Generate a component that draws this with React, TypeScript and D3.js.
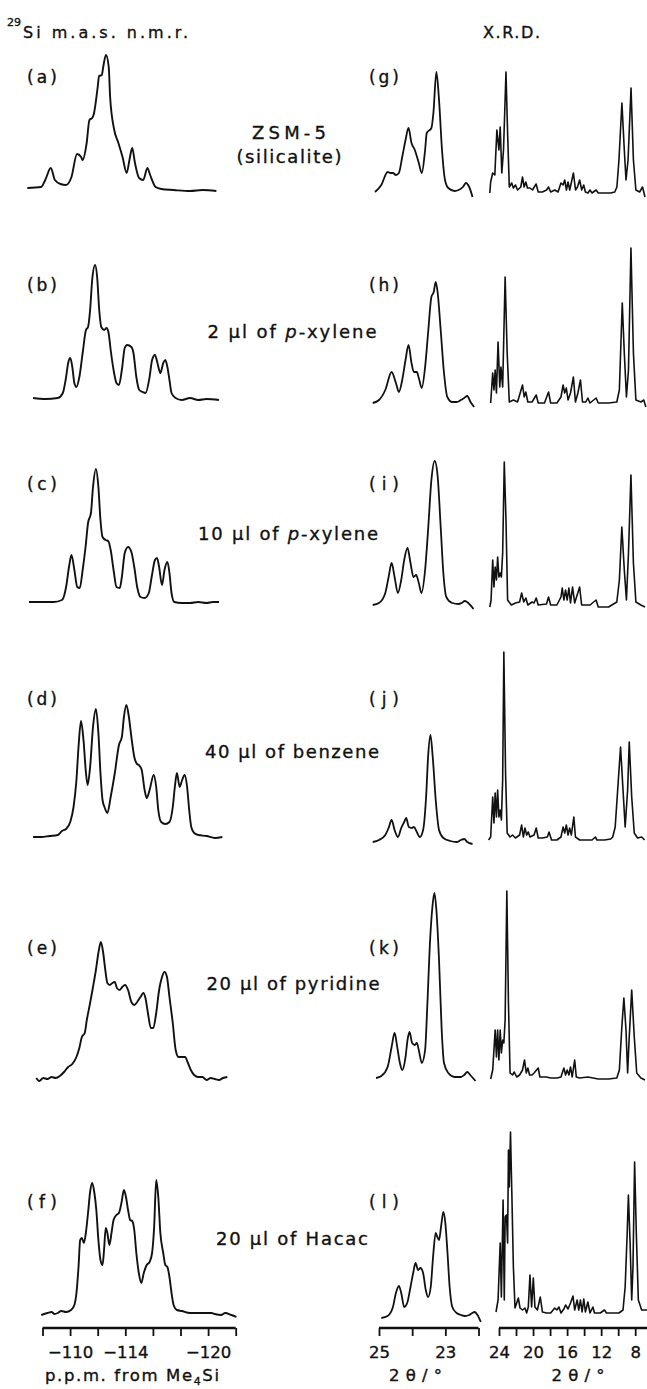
import React, { useEffect, useRef } from "react";
import * as d3 from "d3";

type Pt = [number, number];

// 29Si m.a.s. n.m.r. spectra: [shift / p.p.m., intensity / a.u.]
const nmrA: Pt[] = [
  [-106.9, 2], [-107.9, 3], [-108.2, 10], [-108.6, 22], [-108.9, 10], [-109.3, 6], [-109.7, 5],
  [-110.1, 13], [-110.5, 36], [-110.8, 33], [-110.9, 30], [-111.2, 47], [-111.4, 70], [-111.6, 72],
  [-111.7, 75], [-112.0, 103], [-112.1, 114], [-112.3, 115], [-112.4, 123], [-112.6, 135],
  [-112.8, 123], [-112.9, 93], [-113.2, 60], [-113.5, 47], [-113.8, 33], [-114.1, 17], [-114.3, 30],
  [-114.5, 42], [-114.7, 27], [-115.0, 12], [-115.3, 10], [-115.6, 22], [-115.8, 15], [-116.2, 3],
  [-116.6, 1], [-117.5, 0], [-118.7, -1], [-119.6, 0], [-120.6, -1],
];
const nmrB: Pt[] = [
  [-107.32, 2], [-108.21, 1], [-109.11, 2], [-109.47, 7], [-109.71, 23], [-109.86, 37], [-110.01, 42],
  [-110.16, 33], [-110.31, 17], [-110.46, 13], [-110.67, 23], [-110.91, 47], [-111.15, 70],
  [-111.3, 73], [-111.45, 90], [-111.6, 120], [-111.81, 135], [-111.96, 123], [-112.11, 90],
  [-112.26, 73], [-112.47, 70], [-112.64, 72], [-112.79, 67], [-112.94, 50], [-113.15, 30],
  [-113.36, 17], [-113.54, 15], [-113.75, 30], [-113.96, 52], [-114.14, 55], [-114.44, 53],
  [-114.59, 47], [-114.8, 23], [-115.01, 10], [-115.25, 8], [-115.46, 7], [-115.76, 23], [-115.94, 40],
  [-116.15, 45], [-116.33, 37], [-116.54, 27], [-116.75, 37], [-116.9, 40], [-117.05, 33],
  [-117.2, 20], [-117.35, 7], [-117.64, 2], [-118.09, 0], [-118.69, 2], [-119.29, 0], [-119.89, 1],
  [-120.79, 0],
];
const nmrC: Pt[] = [
  [-107.02, 3], [-107.91, 3], [-108.81, 3], [-109.41, 5], [-109.71, 18], [-109.92, 38], [-110.1, 50],
  [-110.31, 35], [-110.52, 18], [-110.7, 17], [-110.91, 35], [-111.12, 58], [-111.3, 82],
  [-111.51, 92], [-111.66, 118], [-111.87, 136], [-112.05, 118], [-112.2, 85], [-112.35, 68],
  [-112.57, 65], [-112.76, 64], [-112.94, 55], [-113.15, 35], [-113.36, 18], [-113.6, 17],
  [-113.75, 28], [-113.96, 52], [-114.2, 58], [-114.44, 53], [-114.65, 38], [-114.86, 18],
  [-115.1, 8], [-115.4, 7], [-115.7, 12], [-115.91, 28], [-116.15, 45], [-116.3, 47], [-116.45, 38],
  [-116.66, 20], [-116.84, 35], [-117.05, 43], [-117.2, 32], [-117.35, 12], [-117.55, 3],
  [-118.09, 2], [-118.69, 2], [-119.29, 3], [-119.89, 2], [-120.34, 3], [-120.79, 3],
];
const nmrD: Pt[] = [
  [-107.32, 0], [-107.91, 0], [-108.51, 1], [-109.11, 2], [-109.41, 6], [-109.71, 8], [-110.01, 15],
  [-110.25, 30], [-110.46, 57], [-110.61, 90], [-110.79, 116], [-110.97, 97], [-111.15, 64],
  [-111.27, 52], [-111.45, 70], [-111.66, 110], [-111.87, 128], [-112.05, 104], [-112.2, 64],
  [-112.35, 37], [-112.49, 30], [-112.7, 24], [-112.94, 40], [-113.24, 64], [-113.54, 92],
  [-113.75, 100], [-113.9, 120], [-114.08, 132], [-114.26, 120], [-114.44, 100], [-114.65, 80],
  [-114.8, 74], [-115.04, 71], [-115.19, 67], [-115.4, 47], [-115.55, 39], [-115.76, 47],
  [-116.06, 62], [-116.24, 50], [-116.39, 27], [-116.6, 15], [-116.9, 13], [-117.2, 15],
  [-117.44, 30], [-117.59, 50], [-117.74, 64], [-117.94, 50], [-118.12, 57], [-118.3, 62],
  [-118.48, 50], [-118.63, 27], [-118.78, 10], [-118.99, 4], [-119.29, 2], [-119.89, 1],
  [-120.49, -1], [-121.03, 0],
];
const nmrE: Pt[] = [
  [-107.55, -1], [-107.76, -4], [-108.06, -1], [-108.36, -2], [-108.66, 0], [-108.96, -1],
  [-109.26, 1], [-109.56, 5], [-109.86, 10], [-110.16, 13], [-110.46, 20], [-110.67, 29],
  [-110.85, 40], [-111.06, 44], [-111.21, 57], [-111.45, 74], [-111.66, 90], [-111.87, 107],
  [-112.05, 124], [-112.23, 135], [-112.4, 124], [-112.55, 107], [-112.7, 94], [-112.88, 92],
  [-113.06, 94], [-113.24, 95], [-113.39, 89], [-113.6, 87], [-113.78, 90], [-113.99, 92],
  [-114.2, 87], [-114.44, 75], [-114.65, 72], [-114.86, 75], [-115.1, 80], [-115.31, 84],
  [-115.46, 79], [-115.64, 64], [-115.85, 49], [-116.03, 49], [-116.24, 64], [-116.45, 87],
  [-116.66, 100], [-116.84, 105], [-117.02, 100], [-117.2, 80], [-117.44, 54], [-117.65, 27],
  [-117.86, 20], [-118.09, 20], [-118.33, 20], [-118.54, 14], [-118.75, 7], [-118.99, 2],
  [-119.29, 0], [-119.59, 0], [-119.89, -3], [-120.19, -1], [-120.49, -2], [-120.79, -3],
  [-121.09, -1], [-121.39, 0],
];
const nmrF: Pt[] = [
  [-107.91, -2], [-108.36, 0], [-108.66, 1], [-108.87, -1], [-109.11, 0], [-109.35, 2], [-109.71, 1],
  [-110.07, 3], [-110.31, 8], [-110.46, 20], [-110.61, 46], [-110.73, 73], [-110.85, 75],
  [-111.0, 70], [-111.15, 81], [-111.3, 100], [-111.45, 121], [-111.6, 130], [-111.75, 121],
  [-111.9, 103], [-112.05, 73], [-112.2, 53], [-112.35, 48], [-112.46, 63], [-112.58, 85],
  [-112.7, 80], [-112.85, 68], [-113.0, 80], [-113.15, 93], [-113.36, 98], [-113.54, 100],
  [-113.72, 110], [-113.9, 123], [-114.05, 116], [-114.2, 103], [-114.35, 93], [-114.5, 92],
  [-114.65, 83], [-114.8, 60], [-114.98, 40], [-115.16, 30], [-115.34, 40], [-115.55, 48],
  [-115.76, 51], [-115.94, 60], [-116.09, 86], [-116.24, 133], [-116.39, 116], [-116.54, 80],
  [-116.75, 60], [-116.9, 48], [-117.05, 46], [-117.2, 36], [-117.35, 20], [-117.5, 8],
  [-117.74, 3], [-118.09, 2], [-118.69, 0], [-119.29, 0], [-119.89, 0], [-120.25, 0],
  [-120.49, -1], [-120.94, -2], [-121.24, 0], [-121.69, -2], [-122.05, -4],
];

// X.R.D., narrow range: [2θ / °, intensity / a.u.]
const xrdNarrowG: Pt[] = [
  [25.12, -2], [24.93, 5], [24.74, 18], [24.65, 17], [24.58, 17], [24.49, 15], [24.4, 17],
  [24.3, 33], [24.2, 50], [24.11, 62], [24.02, 47], [23.92, 40], [23.8, 27], [23.71, 17],
  [23.61, 40], [23.56, 57], [23.42, 62], [23.36, 77], [23.27, 118], [23.19, 90], [23.1, 40],
  [23.01, 10], [22.91, 2], [22.72, -1], [22.6, 0], [22.47, 3], [22.38, 7], [22.28, 3], [22.18, -7],
];
const xrdNarrowH: Pt[] = [
  [25.19, -3], [25.0, 0], [24.81, 10], [24.62, 28], [24.49, 17], [24.4, 8], [24.3, 20], [24.2, 40],
  [24.11, 55], [24.02, 37], [23.95, 28], [23.86, 28], [23.8, 22], [23.71, 12], [23.61, 33],
  [23.52, 67], [23.42, 103], [23.35, 108], [23.29, 118], [23.23, 107], [23.14, 70], [23.04, 27],
  [22.94, 3], [22.79, -2], [22.66, -2], [22.53, 0], [22.43, 2], [22.34, 4], [22.24, -2], [22.13, -7],
];
const xrdNarrowI: Pt[] = [
  [25.19, 0], [25.0, 2], [24.81, 12], [24.71, 28], [24.62, 42], [24.53, 28], [24.43, 12],
  [24.33, 25], [24.24, 45], [24.14, 57], [24.05, 42], [23.96, 28], [23.88, 30], [23.8, 22],
  [23.72, 12], [23.61, 35], [23.52, 75], [23.42, 125], [23.32, 144], [23.23, 128], [23.14, 78],
  [23.06, 32], [22.97, 8], [22.79, 2], [22.6, 1], [22.51, 2], [22.41, 4], [22.31, 2], [22.15, -4],
];
const xrdNarrowJ: Pt[] = [
  [25.19, -5], [25.0, -3], [24.81, 2], [24.71, 9], [24.62, 17], [24.53, 7], [24.43, 0], [24.33, 9],
  [24.24, 15], [24.18, 19], [24.1, 10], [24.01, 9], [23.95, 10], [23.86, 5], [23.77, 0],
  [23.67, 7], [23.58, 40], [23.52, 80], [23.45, 102], [23.38, 80], [23.29, 37], [23.19, 7],
  [23.06, -1], [22.85, -4], [22.66, -5], [22.53, -3], [22.43, -2], [22.34, -5], [22.18, -7],
];
const xrdNarrowK: Pt[] = [
  [25.09, -1], [24.93, 1], [24.74, 10], [24.62, 30], [24.53, 44], [24.45, 30], [24.37, 14],
  [24.3, 7], [24.2, 20], [24.14, 37], [24.08, 45], [24.0, 34], [23.92, 32], [23.86, 34],
  [23.8, 27], [23.71, 14], [23.61, 27], [23.54, 74], [23.47, 130], [23.39, 170], [23.33, 184],
  [23.27, 167], [23.19, 117], [23.11, 47], [23.04, 14], [22.91, 4], [22.72, 0], [22.53, 0],
  [22.43, 2], [22.34, 5], [22.25, 2], [22.09, -4],
];
const xrdNarrowL: Pt[] = [
  [24.93, -5], [24.74, -3], [24.58, 6], [24.49, 20], [24.4, 27], [24.33, 20], [24.24, 6],
  [24.15, 10], [24.05, 26], [23.97, 40], [23.9, 50], [23.82, 43], [23.75, 45], [23.67, 40],
  [23.59, 23], [23.52, 16], [23.44, 26], [23.37, 56], [23.29, 80], [23.24, 76], [23.19, 73],
  [23.13, 86], [23.06, 101], [23.0, 90], [22.94, 63], [22.87, 26], [22.79, 6], [22.66, 0],
  [22.53, -2], [22.41, -3], [22.28, -2], [22.19, 0], [22.12, 1], [22.03, -2], [21.93, -9],
];

// X.R.D., wide range: [2θ / °, intensity / a.u.]
const xrdWideG: Pt[] = [
  [25.08, -3], [24.98, 8], [24.74, 17], [24.49, 15], [24.25, 60], [24.01, 40], [23.86, 63],
  [23.67, 17], [23.47, 40], [23.18, 118], [22.99, 57], [22.79, 3], [22.51, 7], [22.31, 2],
  [22.06, 5], [21.82, 0], [21.44, 3], [21.24, 13], [21.05, 3], [20.85, 8], [20.66, 2], [20.36, 2],
  [20.07, 0], [19.64, 6], [19.39, -2], [18.91, -2], [18.41, 0], [18.18, 3], [17.93, -2],
  [17.45, 0], [17.06, -2], [16.72, 7], [16.47, 5], [16.28, 10], [16.08, 0], [15.89, 8],
  [15.69, 0], [15.26, 17], [15.01, 0], [14.78, 3], [14.53, 10], [14.28, 0], [14.05, 5],
  [13.85, -2], [13.55, -3], [13.32, 0], [13.07, -3], [12.59, 0], [12.34, -3], [11.61, -3],
  [10.88, -3], [10.4, -2], [10.15, 3], [9.91, 30], [9.56, 87], [9.28, 40], [9.08, 10], [8.84, 30],
  [8.49, 102], [8.21, 30], [7.92, 0], [7.48, -2], [7.14, 3], [6.85, -7],
];
const xrdWideH: Pt[] = [
  [24.98, -3], [24.74, 27], [24.59, 10], [24.45, 30], [24.3, 7], [24.11, 58], [23.91, 13],
  [23.77, 33], [23.57, 13], [23.28, 123], [23.04, 47], [22.79, -2], [22.31, 0], [21.82, -2],
  [21.24, 15], [21.04, 3], [20.85, 8], [20.61, -2], [20.12, -2], [19.63, 5], [19.39, -3],
  [18.66, -3], [18.18, 8], [17.93, -3], [17.2, -3], [16.72, 3], [16.47, 15], [16.28, 7],
  [16.09, 12], [15.89, 0], [15.6, 7], [15.26, 23], [15.02, -2], [14.73, 7], [14.43, 20],
  [14.19, -2], [13.8, -2], [13.56, 2], [13.31, -3], [12.59, 2], [12.34, -3], [11.13, -3],
  [10.16, -2], [9.86, 10], [9.52, 97], [9.28, 47], [9.03, 3], [8.79, 30], [8.5, 152], [8.21, 47],
  [7.92, 0], [7.33, -2], [6.99, 0], [6.75, -7],
];
const xrdWideI: Pt[] = [
  [25.08, -2], [24.93, 5], [24.74, 45], [24.59, 18], [24.45, 38], [24.3, 25], [24.16, 48],
  [24.01, 28], [23.86, 32], [23.72, 28], [23.57, 52], [23.38, 143], [23.18, 85], [22.99, 5],
  [22.55, 0], [22.07, 2], [21.58, 3], [21.34, 12], [21.09, 3], [20.85, 7], [20.61, 0], [20.12, 3],
  [19.88, 2], [19.63, 7], [19.39, 0], [18.42, 1], [18.18, 8], [17.93, 0], [17.2, 0], [16.72, 8],
  [16.57, 17], [16.38, 5], [16.18, 15], [15.99, 5], [15.79, 17], [15.6, 2], [15.36, 18],
  [15.11, 2], [14.53, 18], [14.29, 0], [13.8, 0], [13.31, 0], [12.59, 5], [12.34, -2],
  [11.13, -2], [10.16, 3], [9.86, 25], [9.57, 78], [9.28, 35], [9.03, 5], [8.79, 52], [8.5, 130],
  [8.21, 42], [7.92, 3], [7.33, 0], [6.85, -2],
];
const xrdWideJ: Pt[] = [
  [25.22, -3], [24.98, 0], [24.74, 40], [24.59, 14], [24.45, 44], [24.3, 20], [24.16, 47],
  [24.01, 20], [23.86, 27], [23.72, 17], [23.57, 57], [23.43, 185], [23.23, 64], [23.04, 4],
  [22.7, 0], [22.41, 2], [22.07, -1], [21.58, 2], [21.34, 12], [21.14, 0], [20.95, 9], [20.75, 2],
  [20.56, 5], [20.36, 0], [19.88, 2], [19.63, 9], [19.39, -1], [18.9, -1], [18.32, 0], [18.12, 5],
  [17.83, -3], [17.2, -3], [16.72, 0], [16.47, 10], [16.28, 4], [16.09, 12], [15.89, 2],
  [15.7, 9], [15.5, 2], [15.21, 20], [15.02, 0], [14.53, -3], [13.8, -3], [13.07, -3], [12.68, 0],
  [12.49, -3], [11.61, -3], [10.88, -2], [10.64, 0], [10.35, 10], [10.06, 47], [9.72, 90],
  [9.43, 47], [9.18, 10], [8.89, 47], [8.7, 95], [8.41, 40], [8.11, 4], [7.72, -1], [7.24, 0],
  [6.9, -3],
];
const xrdWideK: Pt[] = [
  [24.98, -2], [24.74, 7], [24.45, 47], [24.3, 20], [24.16, 47], [24.01, 17], [23.86, 47],
  [23.72, 24], [23.57, 37], [23.43, 34], [23.28, 57], [23.08, 186], [22.89, 74], [22.7, 4],
  [22.41, 2], [22.21, 5], [21.92, 0], [21.58, 2], [21.24, 7], [21.0, 17], [20.8, 4], [20.61, 9],
  [20.41, 2], [20.12, 2], [19.88, 4], [19.39, 9], [19.2, 0], [18.42, 0], [17.93, -1], [17.2, -1],
  [16.72, 0], [16.38, 9], [16.18, 2], [15.99, 7], [15.79, 2], [15.6, 10], [15.4, 0], [15.11, 17],
  [14.92, 0], [14.53, -1], [13.56, 0], [12.34, -2], [11.13, -2], [10.16, -1], [9.86, 7],
  [9.57, 50], [9.33, 79], [9.08, 47], [8.89, 4], [8.7, 40], [8.41, 87], [8.11, 40], [7.82, 4],
  [7.33, -1], [6.85, -3],
];
const xrdWideL: Pt[] = [
  [24.35, 1], [24.11, 13], [23.86, 70], [23.72, 16], [23.52, 113], [23.38, 13], [23.28, 96],
  [23.13, 98], [22.99, 70], [22.89, 163], [22.79, 126], [22.65, 181], [22.5, 123], [22.31, 46],
  [22.12, 5], [21.92, 10], [21.73, 15], [21.53, 5], [21.24, 3], [20.95, 5], [20.75, 0], [20.56, 6],
  [20.36, 38], [20.17, 6], [19.97, 35], [19.78, 6], [19.49, 3], [19.15, 16], [18.9, 1], [18.42, 0],
  [17.93, 0], [17.45, 5], [17.2, 3], [16.96, 6], [16.72, 0], [16.38, 4], [16.18, 8], [15.89, 4],
  [15.6, 10], [15.31, 17], [15.11, 3], [14.82, 13], [14.63, 3], [14.43, 13], [14.24, 1],
  [14.04, 14], [13.85, 1], [13.56, 11], [13.31, 0], [12.97, 6], [12.78, 0], [12.1, 0], [11.61, 3],
  [11.37, 0], [10.64, 0], [9.91, 0], [9.43, 3], [9.18, 26], [8.94, 80], [8.8, 118], [8.6, 70],
  [8.41, 13], [8.26, 46], [8.07, 151], [7.87, 80], [7.63, 13], [7.24, 3], [6.75, 3], [6.46, 3],
];

const nmrSpectra = [nmrA, nmrB, nmrC, nmrD, nmrE, nmrF];
const xrdNarrow = [xrdNarrowG, xrdNarrowH, xrdNarrowI, xrdNarrowJ, xrdNarrowK, xrdNarrowL];
const xrdWide = [xrdWideG, xrdWideH, xrdWideI, xrdWideJ, xrdWideK, xrdWideL];

const nmrLetters = ["(a)", "(b)", "(c)", "(d)", "(e)", "(f)"];
const xrdLetters = ["(g)", "(h)", "(i)", "(j)", "(k)", "(l)"];
const sampleLines = [
  ["ZSM-5", "(silicalite)"],
  ["2 \u00b5l of p-xylene"],
  ["10 \u00b5l of p-xylene"],
  ["40 \u00b5l of benzene"],
  ["20 \u00b5l of pyridine"],
  ["20 \u00b5l of Hacac"],
];

const nmrTicks = [-108, -110, -112, -114, -116, -118, -120, -122];
const nmrTickLabels = [-110, -114, -120];
const narrowTicks = [25, 24, 23, 22];
const narrowTickLabels = [25, 23];
const wideTicks = [24, 22, 20, 18, 16, 14, 12, 10, 8];
const wideTickLabels = [24, 20, 16, 12, 8];

// layout
const W = 647;
const H = 1389;
const FONT = "'DejaVu Sans', 'Liberation Sans', sans-serif";
const INK = "#111";
const rowBase = [190, 400, 605, 837, 1077, 1313];
const letterY = [83, 291, 490, 705, 954, 1208];
const sampleY = [[139, 163], [338], [540], [758], [990], [1245]];
const sampleW = [[74, 105], [169], [180], [174], [173], [152]];
const sampleX = [289, 292, 288, 292, 293, 292];
const axisY = 1328;

export default function App() {
  const ref = useRef<SVGSVGElement>(null);

  useEffect(() => {
    const svg = d3.select(ref.current);
    svg.selectAll("*").remove();

    const xNmr = d3.scaleLinear().domain([-108, -122]).range([42.5, 235.7]);
    const xNar = d3.scaleLinear().domain([25, 22]).range([379, 478.5]);
    const xWide = d3.scaleLinear().domain([24, 8]).range([499, 635.2]);

    const g = svg.append("g");

    rowBase.forEach((base, i) => {
      const y = d3.scaleLinear().domain([0, 200]).range([base, base - 200]);

      const smooth = (x: d3.ScaleLinear<number, number>) =>
        d3.line<Pt>().x(d => x(d[0])).y(d => y(d[1])).curve(d3.curveMonotoneX);
      const sharp = d3.line<Pt>().x(d => xWide(d[0])).y(d => y(d[1]));

      g.append("path").attr("d", smooth(xNmr)(nmrSpectra[i]))
        .attr("fill", "none").attr("stroke", INK).attr("stroke-width", 1.9)
        .attr("stroke-linejoin", "round");
      g.append("path").attr("d", smooth(xNar)(xrdNarrow[i]))
        .attr("fill", "none").attr("stroke", INK).attr("stroke-width", 1.8)
        .attr("stroke-linejoin", "round");
      g.append("path").attr("d", sharp(xrdWide[i]))
        .attr("fill", "none").attr("stroke", INK).attr("stroke-width", 1.6)
        .attr("stroke-linejoin", "round");

      g.append("text").attr("x", 27).attr("y", letterY[i]).text(nmrLetters[i])
        .attr("font-size", 17).attr("textLength", 30).attr("lengthAdjust", "spacing");
      g.append("text").attr("x", 369).attr("y", letterY[i]).text(xrdLetters[i])
        .attr("font-size", 17).attr("textLength", 30).attr("lengthAdjust", "spacing");

      sampleLines[i].forEach((line, j) => {
        const t = g.append("text")
          .attr("x", sampleX[i]).attr("y", sampleY[i][j])
          .attr("text-anchor", "middle").attr("font-size", 18)
          .attr("textLength", sampleW[i][j]).attr("lengthAdjust", "spacing");
        const parts = line.split(/(p)(?=-xylene)/);
        parts.forEach(p => {
          if (!p) return;
          const ts = t.append("tspan").text(p);
          if (p === "p") ts.attr("font-style", "italic");
        });
      });
    });

    // header
    g.append("text").attr("x", 7).attr("y", 26).attr("font-size", 11).text("29");
    g.append("text").attr("x", 23).attr("y", 38).attr("font-size", 16)
      .attr("textLength", 165).attr("lengthAdjust", "spacing").text("Si m.a.s. n.m.r.");
    g.append("text").attr("x", 483).attr("y", 38).attr("font-size", 16)
      .attr("textLength", 57).attr("lengthAdjust", "spacing").text("X.R.D.");

    // axes
    const fmt = (labels: number[]) => (d: d3.NumberValue) =>
      labels.includes(+d) ? (+d < 0 ? "\u2212" + Math.abs(+d) : String(d)) : "";

    const drawAxis = (x: d3.ScaleLinear<number, number>, ticks: number[], labels: number[],
      from: number, to: number) => {
      const a = g.append("g").attr("transform", `translate(0,${axisY})`)
        .call(d3.axisBottom(x).tickValues(ticks).tickSize(8).tickSizeOuter(0).tickFormat(fmt(labels)));
      a.select(".domain").remove();
      a.selectAll("line").attr("stroke", INK).attr("stroke-width", 1.8);
      a.selectAll("text").attr("y", 30).attr("dy", 0).attr("font-size", 16.5);
      a.append("line").attr("x1", x(from)).attr("x2", x(to)).attr("y1", 0).attr("y2", 0)
        .attr("stroke", INK).attr("stroke-width", 2.4);
    };
    drawAxis(xNmr, nmrTicks, nmrTickLabels, -108, -122);
    drawAxis(xNar, narrowTicks, narrowTickLabels, 25, 22);
    drawAxis(xWide, wideTicks, wideTickLabels, 24, 6.5);

    const t1 = g.append("text").attr("x", 45).attr("y", 1381).attr("font-size", 16.5)
      .attr("textLength", 174).attr("lengthAdjust", "spacing");
    t1.append("tspan").text("p.p.m. from Me");
    t1.append("tspan").attr("font-size", 11).attr("dy", 4).text("4");
    t1.append("tspan").attr("dy", -4).text("Si");

    [xNar((25 + 22) / 2 + 0.4), xWide(16) + 11].forEach(cx => {
      g.append("text").attr("x", cx).attr("y", 1381).attr("font-size", 16.5)
        .attr("text-anchor", "middle").attr("textLength", 53).attr("lengthAdjust", "spacing")
        .text("2\u03b8/\u00b0");
    });

    g.selectAll("text").attr("font-family", FONT).attr("fill", INK)
      .attr("stroke", INK).attr("stroke-width", 0.35);
  }, []);

  return (
    <svg
      ref={ref}
      width={W}
      height={H}
      style={{ position: "absolute", left: 0, top: 0, background: "#fff" }}
    />
  );
}
